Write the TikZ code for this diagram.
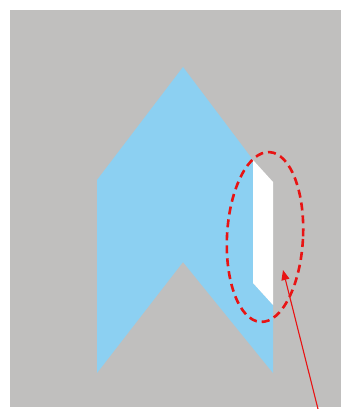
\documentclass[tikz,border=0pt]{standalone}
\usetikzlibrary{arrows.meta}

\definecolor{wallgray}{RGB}{192,191,190}
\definecolor{skyblue}{RGB}{140,208,242}
\definecolor{markred}{RGB}{232,20,20}

\begin{document}
\begin{tikzpicture}[
  x=1pt, y=-1pt,
  panel/.style={fill=skyblue, draw=none},
  gap/.style={fill=white, draw=none},
  ring/.style={draw=markred, line width=2.6pt, dash pattern=on 8pt off 5pt},
  arr/.style={-{Triangle[length=10pt, width=8pt]}, draw=markred, fill=markred, line width=1.1pt}
]
\useasboundingbox (0,0) rectangle (341,409);

% ── background ──────────────────────────────────────────────────────────
\fill[wallgray] (10,10) rectangle (341,407);

% ── folded chevron panel and the open slot ──────────────────────────────
\fill[panel] (183,67) -- (253,160) -- (253,283) -- (273,305) -- (273,373)
  -- (183,262) -- (97,373) -- (97,180) -- cycle;
\fill[gap] (253,160) -- (273,182) -- (273,305) -- (253,283) -- cycle;

% ── marking ─────────────────────────────────────────────────────────────
\draw[ring, rotate around={-3:(265,237)}] (265,237) ellipse [x radius=38, y radius=85];
\coordinate (tail) at (318,409);
\coordinate (tip) at (283,270);
\draw[arr] (tail) -- (tip);

\end{tikzpicture}
\end{document}
